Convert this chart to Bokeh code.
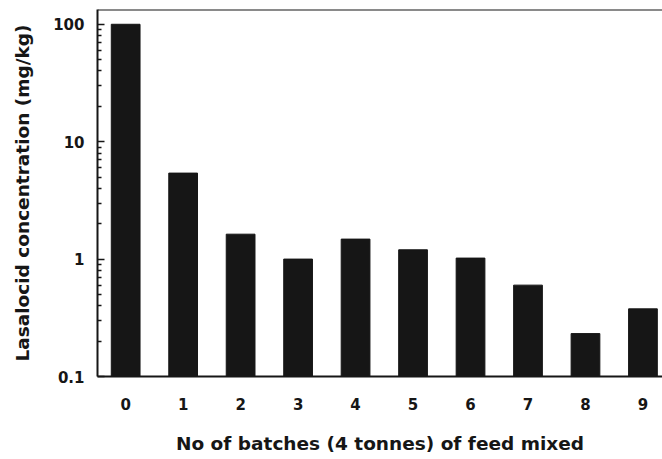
from bokeh.plotting import figure
from bokeh.models import FixedTicker, Span, BasicTickFormatter, Range1d
from bokeh.embed import file_html
from bokeh.resources import INLINE

batches = [0, 1, 2, 3, 4, 5, 6, 7, 8, 9]
concentration = [100, 5.4, 1.63, 1.0, 1.48, 1.2, 1.02, 0.60, 0.232, 0.377]
batch_labels = ["0", "1", "2", "3", "4", "5", "6", "7", "8", "9"]
y_major = [0.1, 1, 10, 100]
y_minor = [0.2, 0.3, 0.4, 0.5, 0.6, 0.7, 0.8, 0.9,
           2, 3, 4, 5, 6, 7, 8, 9,
           20, 30, 40, 50, 60, 70, 80, 90]

FONT = "DejaVu Sans"
INK = "#161616"

p = figure(width=662, height=459, y_axis_type="log",
           x_range=Range1d(-0.49, 9.34), y_range=Range1d(0.1, 133.6),
           output_backend="svg", toolbar_location=None,
           min_border_left=97, min_border_right=0,
           min_border_top=9, min_border_bottom=83)

p.vbar(x=batches, top=concentration, bottom=0.1, width=0.5,
       fill_color=INK, line_color=INK)

p.background_fill_color = "white"
p.border_fill_color = "white"
p.outline_line_color = None
p.xgrid.grid_line_color = None
p.ygrid.grid_line_color = None

p.add_layout(Span(location=133.6, dimension="width", line_color=INK, line_width=2))

ya = p.yaxis[0]
ya.ticker = FixedTicker(ticks=y_major, minor_ticks=y_minor)
ya.formatter = BasicTickFormatter()
ya.axis_line_color = INK
ya.axis_line_width = 2
ya.major_tick_in = 7
ya.major_tick_out = 0
ya.minor_tick_in = 4
ya.minor_tick_out = 0
ya.major_tick_line_color = INK
ya.major_tick_line_width = 1.5
ya.minor_tick_line_color = INK
ya.minor_tick_line_width = 1.5
ya.major_label_text_font = FONT
ya.major_label_text_font_style = "bold"
ya.major_label_text_font_size = "15px"
ya.major_label_text_color = INK
ya.major_label_standoff = 13
ya.axis_label = "Lasalocid concentration (mg/kg)"
ya.axis_label_text_font = FONT
ya.axis_label_text_font_style = "bold"
ya.axis_label_text_font_size = "18.5px"
ya.axis_label_text_color = INK
ya.axis_label_standoff = 17

xa = p.xaxis[0]
xa.ticker = FixedTicker(ticks=batches)
xa.major_label_overrides = {b: s for b, s in zip(batches, batch_labels)}
xa.axis_line_color = INK
xa.axis_line_width = 2
xa.major_tick_in = 0
xa.major_tick_out = 0
xa.major_tick_line_color = None
xa.minor_tick_line_color = None
xa.major_label_text_font = FONT
xa.major_label_text_font_style = "bold"
xa.major_label_text_font_size = "15px"
xa.major_label_text_color = INK
xa.major_label_standoff = 21
xa.axis_label = "No of batches (4 tonnes) of feed mixed"
xa.axis_label_text_font = FONT
xa.axis_label_text_font_style = "bold"
xa.axis_label_text_font_size = "18.5px"
xa.axis_label_text_color = INK
xa.axis_label_standoff = 20

open("out.html", "w").write(file_html(p, INLINE))
